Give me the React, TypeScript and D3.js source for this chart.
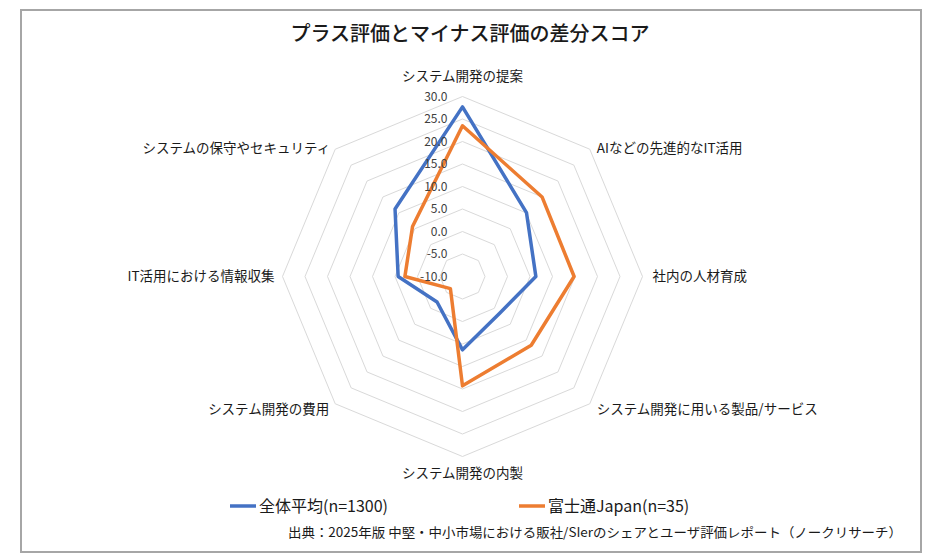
import * as d3 from 'd3'
import * as React from 'react'

// Axis labels, clockwise from the top
const categories: string[] = [
  'システム開発の提案',
  'AIなどの先進的なIT活用',
  '社内の人材育成',
  'システム開発に用いる製品/サービス',
  'システム開発の内製',
  'システム開発の費用',
  'IT活用における情報収集',
  'システムの保守やセキュリティ',
]

const seriesNames: string[] = ['全体平均(n=1300)', '富士通Japan(n=35)']
const averageValues: number[] = [27.7, 10.1, 6.3, 1.6, 6.3, -2.0, 4.3, 11.2]
const fujitsuValues: number[] = [23.5, 15.0, 14.8, 11.6, 14.3, -6.2, 2.8, 5.7]
const tickValues: number[] = [-10, -5, 0, 5, 10, 15, 20, 25, 30]

const title = 'プラス評価とマイナス評価の差分スコア'
const source = '出典：2025年版 中堅・中小市場における販社/SIerのシェアとユーザ評価レポート（ノークリサーチ）'

const W = 937
const H = 559
const cx = 462.5
const cy = 276.5
const R = 180
const font = '"Noto Sans CJK JP", "Noto Sans", sans-serif'
const colors = ['#4472C4', '#ED7D31']

type Anchor = 'start' | 'middle' | 'end'
// label placement per axis (offset from the outer ring vertex)
const labelPos: { dx: number; dy: number; anchor: Anchor }[] = [
  { dx: 0, dy: -20, anchor: 'middle' },
  { dx: 7, dy: -1, anchor: 'start' },
  { dx: 10, dy: 0, anchor: 'start' },
  { dx: 7, dy: 5, anchor: 'start' },
  { dx: 0, dy: 17, anchor: 'middle' },
  { dx: -6, dy: 5, anchor: 'end' },
  { dx: -8, dy: 0, anchor: 'end' },
  { dx: -5, dy: -1, anchor: 'end' },
]

export default function App() {
  const r = d3.scaleLinear().domain([-10, 30]).range([0, R])
  const angle = d3.scaleLinear().domain([0, categories.length]).range([0, 2 * Math.PI])

  const radial = d3.lineRadial<number>()
    .angle((_d, i) => angle(i))
    .radius(d => r(d))
    .curve(d3.curveLinearClosed)

  const ringPath = (v: number) => radial(categories.map(() => v)) || ''

  const vertex = (i: number, rad: number) => {
    const a = angle(i)
    return [Math.sin(a) * rad, -Math.cos(a) * rad]
  }

  return (
    <svg width={W} height={H} style={{ position: 'absolute', left: 0, top: 0, background: '#fff' }}>
      <rect x={21} y={10} width={900} height={542} fill="#fff" stroke="#a6a6a6" strokeWidth={2} />
      <text x={470} y={41} textAnchor="middle" fontFamily={font} fontSize={20} fontWeight={500} fill="#1a1a1a">
        {title}
      </text>

      <g transform={`translate(${cx},${cy})`}>
        {tickValues.slice(1).map(v => (
          <path key={v} d={ringPath(v)} fill="none" stroke="#d9d9d9" strokeWidth={1} />
        ))}
        {[averageValues, fujitsuValues].map((vals, s) => (
          <path key={s} d={radial(vals) || ''} fill="none" stroke={colors[s]}
            strokeWidth={3.5} strokeLinejoin="round" />
        ))}
        {tickValues.map(v => (
          <text key={v} x={-15} y={-r(v)} dy="0.35em" textAnchor="end"
            fontFamily={font} fontSize={12} fill="#404040">
            {v.toFixed(1)}
          </text>
        ))}
        {categories.map((c, i) => {
          const [x, y] = vertex(i, R)
          const p = labelPos[i]
          return (
            <text key={c} x={x + p.dx} y={y + p.dy} dy="0.35em" textAnchor={p.anchor}
              fontFamily={font} fontSize={13.5} fill="#1a1a1a">
              {c}
            </text>
          )
        })}
      </g>

      {seriesNames.map((n, s) => {
        const x0 = s === 0 ? 230 : 519
        return (
          <g key={n}>
            <line x1={x0} x2={x0 + 26} y1={506} y2={506} stroke={colors[s]} strokeWidth={3.5} />
            <text x={x0 + 29} y={506} dy="0.35em" fontFamily={font} fontSize={16} fill="#1a1a1a">
              {n}
            </text>
          </g>
        )
      })}

      <text x={288} y={532} dy="0.35em" fontFamily={font} fontSize={13} fill="#1a1a1a"
        textLength={614} lengthAdjust="spacingAndGlyphs">
        {source}
      </text>
    </svg>
  )
}
